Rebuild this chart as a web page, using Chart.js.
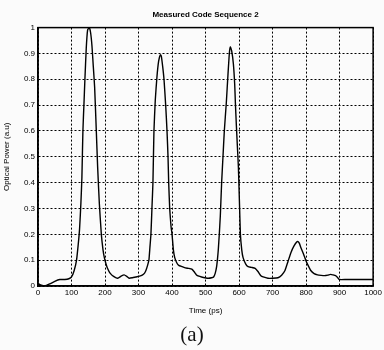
<!DOCTYPE html>
<html>
<head>
<meta charset="utf-8">
<script src="https://cdn.jsdelivr.net/npm/chart.js@4.4.1/dist/chart.umd.min.js"></script>
<style>
  html, body { margin: 0; padding: 0; background: #fbfbfb; }
  #wrap { position: relative; width: 384px; height: 350px; }
  #caption {
    position: absolute; left: 0; width: 384px; top: 322px;
    text-align: center; font-family: "Liberation Serif", serif; font-size: 21px; color: #111;
  }
</style>
</head>
<body>
<div id="wrap">
  <canvas id="chart" width="384" height="350"></canvas>
  <div id="caption">(a)</div>
</div>
<script>
// time axis (ps) and measured optical power (a.u.)
var times = [0, 10, 20, 35, 50, 65, 80, 92, 100, 108, 115, 120, 124, 128, 131, 134, 137, 140, 144, 148,
  153, 157, 161, 165, 169, 174, 178, 183, 189, 194, 198, 203, 207, 215, 228, 238, 248, 257, 265, 272,
  282, 292, 303, 311, 318, 322, 327, 331, 334, 337, 340, 343, 346, 350, 355, 360, 365, 368, 372, 376,
  381, 385, 388, 390, 393, 397, 400, 404, 408, 414, 420, 430, 440, 450, 459, 466, 473, 480, 488, 498,
  509, 518, 524, 529, 533, 536, 538, 541, 544, 548, 552, 556, 562, 567, 571, 574, 578, 583, 587, 589,
  592, 595, 598, 601, 604, 608, 612, 620, 627, 637, 648, 657, 665, 672, 686, 700, 716, 727, 737, 746,
  755, 764, 772, 776, 780, 784, 792, 799, 806, 814, 824, 834, 845, 855, 865, 873, 880, 888, 894, 899,
  920, 960, 1000];
var power = [0.01, 0.003, 0.0, 0.008, 0.018, 0.025, 0.025, 0.028, 0.035, 0.06, 0.1, 0.16, 0.22, 0.32, 0.42, 0.6, 0.7, 0.8, 0.92, 0.99,
  1.0, 0.98, 0.93, 0.85, 0.77, 0.6, 0.46, 0.32, 0.2, 0.14, 0.11, 0.085, 0.07, 0.05, 0.035, 0.03, 0.038, 0.043, 0.037, 0.03,
  0.032, 0.035, 0.038, 0.042, 0.05, 0.06, 0.08, 0.1, 0.15, 0.2, 0.3, 0.4, 0.6, 0.72, 0.81, 0.87, 0.895, 0.89, 0.85, 0.8,
  0.7, 0.6, 0.5, 0.4, 0.3, 0.23, 0.2, 0.14, 0.11, 0.09, 0.08, 0.075, 0.07, 0.068, 0.065, 0.055, 0.043, 0.038, 0.035, 0.032,
  0.03, 0.032, 0.035, 0.05, 0.075, 0.11, 0.14, 0.2, 0.27, 0.4, 0.5, 0.6, 0.71, 0.82, 0.9, 0.925, 0.91, 0.86, 0.78, 0.71,
  0.62, 0.54, 0.46, 0.33, 0.2, 0.14, 0.11, 0.085, 0.075, 0.072, 0.068, 0.055, 0.04, 0.035, 0.03, 0.03, 0.032, 0.042, 0.06, 0.095,
  0.13, 0.155, 0.17, 0.172, 0.165, 0.15, 0.125, 0.1, 0.08, 0.06, 0.048, 0.043, 0.041, 0.04, 0.042, 0.045, 0.043, 0.04, 0.033, 0.025,
  0.025, 0.025, 0.025];

var xTicks = [0, 100, 200, 300, 400, 500, 600, 700, 800, 900, 1000];
var yTicks = [0, 0.1, 0.2, 0.3, 0.4, 0.5, 0.6, 0.7, 0.8, 0.9, 1];

var points = [];
for (var i = 0; i < times.length; i++) {
  points.push({ x: times[i], y: power[i] });
}

var tickFont = { family: "Liberation Sans", size: 8 };

// black frame round the plot area, like the matlab axes box
var boxPlugin = {
  id: "box",
  afterDraw: function (chart) {
    var a = chart.chartArea;
    var ctx = chart.ctx;
    ctx.save();
    ctx.strokeStyle = "#000";
    ctx.lineWidth = 1.5;
    ctx.strokeRect(a.left, a.top, a.right - a.left, a.bottom - a.top);
    ctx.restore();
  }
};

new Chart(document.getElementById("chart"), {
  type: "line",
  data: {
    datasets: [{
      data: points,
      borderColor: "#000",
      borderWidth: 1.4,
      pointRadius: 0,
      tension: 0.15,
      fill: false
    }]
  },
  options: {
    responsive: false,
    animation: false,
    layout: { padding: { top: 2, right: 8, bottom: 34, left: 2 } },
    plugins: {
      legend: { display: false },
      tooltip: { enabled: false },
      title: {
        display: true,
        fullSize: false,
        text: "Measured Code Sequence 2",
        color: "#000",
        font: { family: "Liberation Sans", size: 8, weight: "bold" },
        padding: { top: 8, bottom: 8 }
      }
    },
    scales: {
      x: {
        type: "linear",
        min: 0,
        max: 1000,
        afterBuildTicks: function (scale) {
          scale.ticks = xTicks.map(function (v) { return { value: v }; });
        },
        afterFit: function (scale) { scale.height = 30; },
        ticks: {
          color: "#000", font: tickFont, padding: 2, maxRotation: 0,
          callback: function (v) { return String(v); }
        },
        grid: { color: "#000", lineWidth: 1, drawTicks: false },
        border: { display: true, color: "#000", width: 1.5, dash: [2, 2] },
        title: {
          display: true, text: "Time (ps)", color: "#000",
          font: { family: "Liberation Sans", size: 8 }, padding: { top: 2, bottom: 0 }
        }
      },
      y: {
        min: 0,
        max: 1,
        afterBuildTicks: function (scale) {
          scale.ticks = yTicks.map(function (v) { return { value: v }; });
        },
        afterFit: function (scale) { scale.width = 36; },
        ticks: {
          color: "#000", font: tickFont, padding: 3,
          callback: function (v) { return String(Math.round(v * 10) / 10); }
        },
        grid: { color: "#000", lineWidth: 1, drawTicks: false },
        border: { display: true, color: "#000", width: 1.5, dash: [2, 2] },
        title: {
          display: true, text: "Optical Power (a.u)", color: "#000",
          font: { family: "Liberation Sans", size: 8 }, padding: { top: 0, bottom: 2 }
        }
      }
    }
  },
  plugins: [boxPlugin]
});
</script>
</body>
</html>
